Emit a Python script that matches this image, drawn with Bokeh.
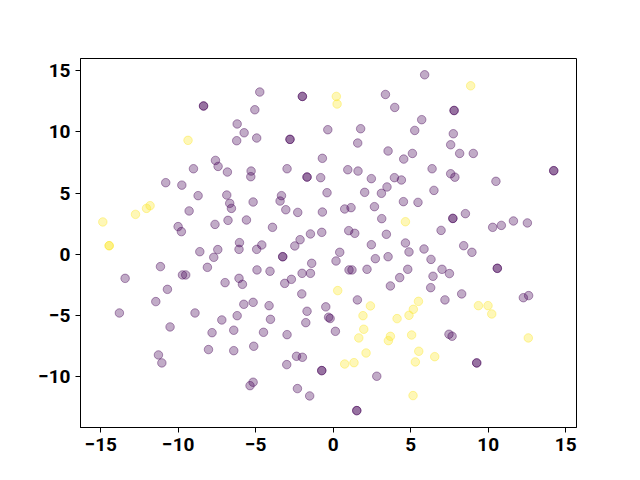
from bokeh.plotting import figure
from bokeh.models import Range1d, FixedTicker
from bokeh.embed import file_html
from bokeh.resources import INLINE

# class 0 (purple) points
purple_x = [-8.37, -8.37, -9.02, -10.81, -9.77, -4.74, -1.99, -1.99, -5.06, -6.20, -5.75, -6.23, -4.94,
            -2.79, -2.79, -0.35, -7.60, -7.43, -6.83, -5.30, -5.32, -2.98, -1.69, -1.69, -0.81, -0.70,
            5.90, 3.37, 3.97, 7.80, 7.80, 5.71, 5.26, 1.77, 1.58, 3.54, 4.55, 5.11, 6.38, 7.75, 7.58,
            7.58, 7.85, 0.94, 1.60, 2.46, 3.95, 4.40, 8.16, 9.04, 14.23, 14.23, 10.50,
            -8.72, -9.30, -10.01, -9.80, -8.61, -11.15, -13.43, -9.73, -9.52, -10.70, -11.45,
            -6.87, -6.68, -6.57, -5.17, -3.34, -3.43, -3.06, -2.29, -0.70, -0.40, -7.63, -6.79,
            -5.60, -3.92, -1.47, -0.74, -2.14, -2.48, -6.05, -6.08, -4.61, -4.94, -3.26, -3.26,
            -7.45, -7.71, -8.12, -4.92, -4.08, -1.39, -2.01, -1.47, -6.98, -6.08, -5.86, -3.13,
            -2.70, -2.03, -5.77, -5.17, -4.14, -0.48,
            2.03, 3.11, 3.47, 6.50, 0.74, 1.15, 2.66, 4.53, 5.47, 3.13, 7.72, 7.72, 6.96, 1.00,
            1.39, 3.43, 2.46, 4.66, 4.89, 5.86, 6.31, 0.42, 0.18, 2.72, 3.54, 1.02, 1.21, 2.18,
            4.81, 4.29, 7.02, 7.50, 6.44, 6.29, 3.69, 1.56, 7.21,
            8.53, 10.29, 10.85, 11.63, 12.53, 8.42, 8.95, 10.59, 10.59, 8.29, 12.27, 12.61,
            9.26, 9.26,
            -13.80, -8.92, -10.53, -11.28, -11.06, -8.05, -7.19, -6.20, -7.82, -6.42, -4.05,
            -4.50, -2.98, -1.69, -1.77, -0.30, -0.20, -6.42, -5.13, -2.37, -1.99, -3.00,
            -0.74, -0.74, -5.17, -5.37, -2.31, -1.52, 0.14, 2.81, 1.52, 1.52, 7.47, 7.67]
purple_y = [12.12, 12.12, 6.99, 5.85, 5.65, 13.26, 12.90, 12.90, 11.81, 10.65, 9.93, 9.28, 9.50,
            9.39, 9.39, 10.18, 7.67, 7.18, 6.72, 6.80, 6.34, 6.99, 6.31, 6.31, 6.26, 7.84,
            14.67, 13.06, 12.00, 11.75, 11.75, 11.00, 10.12, 10.26, 9.09, 8.44, 7.78, 8.24, 6.99,
            9.85, 8.95, 6.58, 6.30, 6.91, 6.80, 6.18, 6.26, 6.07, 8.24, 8.24, 6.83, 6.83, 5.96,
            4.79, 3.54, 2.26, 1.85, 0.21, -1.01, -1.97, -1.69, -1.69, -2.87, -3.87,
            4.84, 4.16, 3.75, 4.27, 4.79, 4.35, 3.64, 3.42, 3.45, 5.03, 2.44, 2.77,
            2.80, 2.20, 1.66, 1.79, 1.19, 0.68, 0.95, 0.40, 0.76, 0.40, -0.20, -0.20,
            0.38, -0.25, -1.07, -1.28, -1.39, -0.74, -1.56, -1.56, -2.32, -1.97, -2.46, -2.38,
            -2.05, -3.24, -4.09, -3.93, -4.20, -4.30,
            5.06, 4.98, 5.50, 5.22, 3.70, 3.81, 3.89, 4.30, 4.24, 2.91, 2.93, 2.93, 1.95, 1.93,
            1.71, 1.63, 0.78, 0.92, 0.19, 0.43, -0.42, 0.16, -0.55, -0.36, -0.20, -1.28, -1.28, -1.23,
            -1.23, -1.91, -1.23, -1.58, -1.80, -2.73, -2.59, -3.73, -3.73,
            3.32, 2.20, 2.36, 2.72, 2.56, 0.70, 0.16, -1.15, -1.15, -3.24, -3.55, -3.38,
            -8.88, -8.88,
            -4.80, -4.80, -5.94, -8.23, -8.88, -7.79, -5.37, -5.02, -6.41, -6.21, -5.32,
            -6.38, -6.57, -4.66, -5.59, -5.15, -5.25, -7.88, -7.52, -8.34, -8.42, -9.02,
            -9.51, -9.51, -10.46, -10.74, -10.98, -11.58, -6.30, -9.97, -12.78, -12.78, -6.54, -6.70]

# class 1 (yellow) points
yellow_x = [-9.37, 0.20, 0.25, 8.87, -14.87, -12.76, -12.05, -11.82, -14.46, -14.46, 4.66, 0.29,
            2.40, 5.50, 9.37, 9.99, 10.23, 12.59, 1.92, 4.12, 4.89, 5.17, 1.97, 1.65, 3.69, 3.56,
            5.06, 5.52, 2.12, 0.74, 1.34, 5.30, 6.55, 5.15]
yellow_y = [9.31, 12.90, 12.28, 13.77, 2.64, 3.26, 3.75, 3.97, 0.70, 0.70, 2.66, -2.97,
            -4.22, -3.85, -4.20, -4.20, -4.88, -6.84, -5.02, -5.26, -4.99, -4.50, -6.13, -6.84, -6.71, -7.06,
            -6.60, -7.93, -8.07, -8.97, -8.86, -8.80, -8.37, -11.55]

x_ticks = [-15, -10, -5, 0, 5, 10, 15]
y_ticks = [-10, -5, 0, 5, 10, 15]

p = figure(output_backend="svg", toolbar_location=None,
           frame_width=496, frame_height=369,
           min_border_left=80, min_border_right=64, min_border_top=58, min_border_bottom=53,
           x_range=Range1d(-16.31, 15.70), y_range=Range1d(-14.16, 16.0))

p.scatter(purple_x, purple_y, size=8.5, fill_color="#440154", line_color="#440154",
          fill_alpha=0.33, line_alpha=0.4, line_width=1)
p.scatter(yellow_x, yellow_y, size=8.5, fill_color="#fde725", line_color="#fde725",
          fill_alpha=0.33, line_alpha=0.4, line_width=1)

p.grid.visible = False
p.outline_line_color = "black"
p.outline_line_width = 1
p.outline_line_alpha = 1

def fmt(v):
    return ("\u2212" + str(-v)) if v < 0 else str(v)

for ax, ticks in ((p.xaxis, x_ticks), (p.yaxis, y_ticks)):
    ax.ticker = FixedTicker(ticks=ticks)
    ax.major_label_overrides = {t: fmt(t) for t in ticks}
    ax.minor_tick_line_color = None
    ax.major_tick_in = 0
    ax.major_tick_out = 5
    ax.major_tick_line_color = "black"
    ax.axis_line_color = "black"
    ax.major_label_text_font = "Roboto"
    ax.major_label_text_font_style = "bold"
    ax.major_label_text_font_size = "19px"
    ax.major_label_text_color = "black"
    ax.major_label_standoff = 5

open("out.html", "w").write(file_html(p, INLINE))
